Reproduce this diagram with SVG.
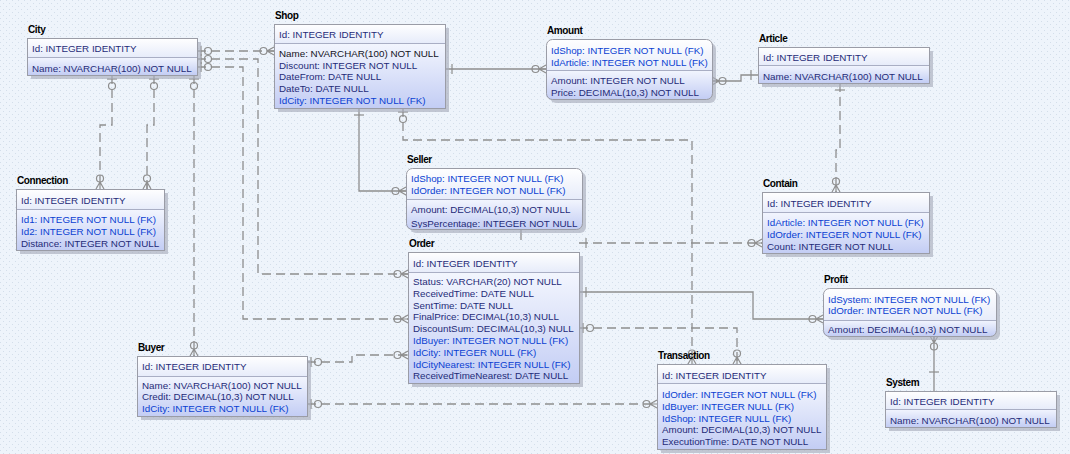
<svg xmlns="http://www.w3.org/2000/svg" xmlns:xlink="http://www.w3.org/1999/xlink" width="1070" height="454" viewBox="0 0 1070 454">
<style>
text{font-family:"Liberation Sans",Arial,sans-serif;font-size:9.8px}
.t{font-weight:bold;fill:#000;font-size:10px;letter-spacing:-0.4px}
.a{fill:#1f2b78}
.k{fill:#0a3fd2}
.n{fill:#14141c}
.sh{fill:#a9aebb;opacity:0.65}
.hd{fill:url(#gh)}
.bd{fill:url(#gb)}
.bx{fill:none;stroke:#9a9ca6;stroke-width:1}
.sp{stroke:#a9aec4;stroke-width:1}
.c{fill:none;stroke:#8e8e8e;stroke-width:1.3}
.d{stroke-dasharray:9,5}
.m{fill:none;stroke:#8e8e8e;stroke-width:1.2}
</style>
<defs>
<pattern id="bg" width="6" height="6" patternUnits="userSpaceOnUse">
<rect x="0" y="0" width="1" height="1" fill="#d3deea"/>
<rect x="3" y="3" width="1" height="1" fill="#d3deea"/>
</pattern>
<linearGradient id="gh" x1="0" y1="0" x2="0" y2="1"><stop offset="0" stop-color="#ffffff"/><stop offset="1" stop-color="#e7ecfa"/></linearGradient>
<linearGradient id="gb" x1="0" y1="0" x2="0" y2="1"><stop offset="0" stop-color="#f3f6fe"/><stop offset="1" stop-color="#c3cdf4"/></linearGradient>
<g id="crow" class="m"><path d="M-7,0 L0,-4 M-7,0 L0,0 M-7,0 L0,4"/><circle cx="-10.5" cy="0" r="3.5"/></g>
<g id="opt" class="m"><path d="M4,-5 V5"/><circle cx="11" cy="0" r="3.5"/></g>
<g id="one" class="m"><path d="M7,-5 V5"/></g>
<clipPath id="clSeller"><rect x="406" y="168" width="176" height="60"/></clipPath>
</defs>
<rect width="1070" height="454" fill="#eef4fb"/>
<rect width="1070" height="454" fill="url(#bg)"/>

<g id="connectors">
<path class="c d" d="M197,51 H274"/>
<path class="c d" d="M197,59 H258 V274 H408"/>
<path class="c d" d="M197,67 H243 V319 H408"/>
<path class="c d" d="M112,75 V125 H100 V189"/>
<path class="c d" d="M154,75 V125 H147 V189"/>
<path class="c d" d="M194,75 V356"/>
<path class="c" d="M445,69 H546"/>
<path class="c" d="M712,81 H741 V75 H758"/>
<path class="c" d="M359,108 V191 H406"/>
<path class="c d" d="M403,108 V140 H692 V364"/>
<path class="c d" d="M840,83 V150 H836 V192"/>
<path class="c d" d="M579,243 H762"/>
<path class="c" d="M579,292 H753 V319 H823"/>
<path class="c d" d="M579,328 H737 V364"/>
<path class="c d" d="M307,362 H352 V355 H408"/>
<path class="c d" d="M307,404 H657"/>
<path class="c" d="M934,336 V391"/>
<path class="c" d="M521,229 V240"/>
<use xlink:href="#opt" transform="translate(197,51)"/>
<use xlink:href="#crow" transform="translate(274,51)"/>
<use xlink:href="#opt" transform="translate(197,59)"/>
<use xlink:href="#crow" transform="translate(408,274)"/>
<use xlink:href="#opt" transform="translate(197,67)"/>
<use xlink:href="#crow" transform="translate(408,319)"/>
<use xlink:href="#opt" transform="translate(112,75) rotate(90)"/>
<use xlink:href="#crow" transform="translate(100,189) rotate(90)"/>
<use xlink:href="#opt" transform="translate(154,75) rotate(90)"/>
<use xlink:href="#crow" transform="translate(147,189) rotate(90)"/>
<use xlink:href="#opt" transform="translate(194,75) rotate(90)"/>
<use xlink:href="#crow" transform="translate(194,356) rotate(90)"/>
<use xlink:href="#one" transform="translate(445,69)"/>
<use xlink:href="#crow" transform="translate(546,69)"/>
<use xlink:href="#crow" transform="translate(712,81) rotate(180)"/>
<use xlink:href="#one" transform="translate(758,75) rotate(180)"/>
<use xlink:href="#one" transform="translate(359,108) rotate(90)"/>
<use xlink:href="#crow" transform="translate(406,191)"/>
<use xlink:href="#opt" transform="translate(403,108) rotate(90)"/>
<use xlink:href="#crow" transform="translate(692,364) rotate(90)"/>
<use xlink:href="#one" transform="translate(840,83) rotate(90)"/>
<use xlink:href="#crow" transform="translate(836,192) rotate(90)"/>
<use xlink:href="#one" transform="translate(579,243)"/>
<use xlink:href="#crow" transform="translate(762,243)"/>
<use xlink:href="#one" transform="translate(579,292)"/>
<use xlink:href="#crow" transform="translate(823,319)"/>
<use xlink:href="#opt" transform="translate(579,328)"/>
<use xlink:href="#crow" transform="translate(737,364) rotate(90)"/>
<use xlink:href="#opt" transform="translate(307,362)"/>
<use xlink:href="#crow" transform="translate(408,355)"/>
<use xlink:href="#opt" transform="translate(307,404)"/>
<use xlink:href="#crow" transform="translate(657,404)"/>
<use xlink:href="#crow" transform="translate(934,336) rotate(-90)"/>
<path class="m" d="M929,372 H939"/>
</g>

<g id="city">
<rect class="sh" x="31" y="42" width="170" height="37"/>
<rect class="hd" x="27" y="38" width="170" height="19"/>
<rect class="bd" x="27" y="57" width="170" height="18"/>
<rect class="bx" x="27.5" y="38.5" width="170" height="37"/>
<line class="sp" x1="28" y1="57.5" x2="197" y2="57.5"/>
<text class="t" x="28" y="33">City</text>
<text class="a" x="32" y="52">Id: INTEGER IDENTITY</text>
<text class="a" x="32" y="71.5">Name: NVARCHAR(100) NOT NULL</text>
</g>

<g id="shop">
<rect class="sh" x="278" y="28" width="171" height="84"/>
<rect class="hd" x="274" y="24" width="171" height="19"/>
<rect class="bd" x="274" y="43" width="171" height="65"/>
<rect class="bx" x="274.5" y="24.5" width="171" height="84"/>
<line class="sp" x1="275" y1="43.5" x2="445" y2="43.5"/>
<text class="t" x="275" y="19">Shop</text>
<text class="a" x="279" y="37.5">Id: INTEGER IDENTITY</text>
<text class="n" x="279" y="57">Name: NVARCHAR(100) NOT NULL</text>
<text class="a" x="279" y="68.7">Discount: INTEGER NOT NULL</text>
<text class="a" x="279" y="80.4">DateFrom: DATE NULL</text>
<text class="a" x="279" y="92.1">DateTo: DATE NULL</text>
<text class="k" x="279" y="103.8">IdCity: INTEGER NOT NULL (FK)</text>
</g>

<g id="amount">
<rect class="sh" x="550" y="43" width="166" height="60" rx="6"/>
<path class="hd" d="M546,70 V45 Q546,39 552,39 H706 Q712,39 712,45 V70 Z"/>
<path class="bd" d="M546,70 H712 V93 Q712,99 706,99 H552 Q546,99 546,93 Z"/>
<rect class="bx" x="546.5" y="39.5" width="166" height="60" rx="6"/>
<line class="sp" x1="547" y1="70.5" x2="712" y2="70.5"/>
<text class="t" x="547" y="34">Amount</text>
<text class="k" x="551" y="54">IdShop: INTEGER NOT NULL (FK)</text>
<text class="k" x="551" y="65.7">IdArticle: INTEGER NOT NULL (FK)</text>
<text class="a" x="551" y="84">Amount: INTEGER NOT NULL</text>
<text class="a" x="551" y="95.7">Price: DECIMAL(10,3) NOT NULL</text>
</g>

<g id="article">
<rect class="sh" x="762" y="51" width="171" height="36"/>
<rect class="hd" x="758" y="47" width="171" height="18"/>
<rect class="bd" x="758" y="65" width="171" height="18"/>
<rect class="bx" x="758.5" y="47.5" width="171" height="36"/>
<line class="sp" x1="759" y1="65.5" x2="929" y2="65.5"/>
<text class="t" x="759" y="42">Article</text>
<text class="a" x="763" y="61">Id: INTEGER IDENTITY</text>
<text class="a" x="763" y="79.5">Name: NVARCHAR(100) NOT NULL</text>
</g>

<g id="connection">
<rect class="sh" x="20" y="193" width="148" height="61"/>
<rect class="hd" x="16" y="189" width="148" height="20"/>
<rect class="bd" x="16" y="209" width="148" height="41"/>
<rect class="bx" x="16.5" y="189.5" width="148" height="61"/>
<line class="sp" x1="17" y1="209.5" x2="164" y2="209.5"/>
<text class="t" x="17" y="184">Connection</text>
<text class="a" x="21" y="204">Id: INTEGER IDENTITY</text>
<text class="k" x="21" y="223">Id1: INTEGER NOT NULL (FK)</text>
<text class="k" x="21" y="234.8">Id2: INTEGER NOT NULL (FK)</text>
<text class="a" x="21" y="246.6">Distance: INTEGER NOT NULL</text>
</g>

<g id="seller">
<rect class="sh" x="410" y="172" width="176" height="61" rx="6"/>
<path class="hd" d="M406,199 V174 Q406,168 412,168 H576 Q582,168 582,174 V199 Z"/>
<path class="bd" d="M406,199 H582 V223 Q582,229 576,229 H412 Q406,229 406,223 Z"/>
<text class="t" x="407" y="163">Seller</text>
<text class="k" x="411" y="182">IdShop: INTEGER NOT NULL (FK)</text>
<text class="k" x="411" y="193.8">IdOrder: INTEGER NOT NULL (FK)</text>
<text class="a" x="411" y="213">Amount: DECIMAL(10,3) NOT NULL</text>
<text class="a" x="411" y="226.5" clip-path="url(#clSeller)">SysPercentage: INTEGER NOT NULL</text>
<rect class="bx" x="406.5" y="168.5" width="176" height="61" rx="6"/>
<line class="sp" x1="407" y1="199.5" x2="582" y2="199.5"/>
</g>

<g id="contain">
<rect class="sh" x="766" y="196" width="167" height="61"/>
<rect class="hd" x="762" y="192" width="167" height="20"/>
<rect class="bd" x="762" y="212" width="167" height="41"/>
<rect class="bx" x="762.5" y="192.5" width="167" height="61"/>
<line class="sp" x1="763" y1="212.5" x2="929" y2="212.5"/>
<text class="t" x="763" y="187">Contain</text>
<text class="a" x="767" y="206.5">Id: INTEGER IDENTITY</text>
<text class="k" x="767" y="226">IdArticle: INTEGER NOT NULL (FK)</text>
<text class="k" x="767" y="237.8">IdOrder: INTEGER NOT NULL (FK)</text>
<text class="a" x="767" y="249.6">Count: INTEGER NOT NULL</text>
</g>

<g id="order">
<rect class="sh" x="412" y="256" width="171" height="131"/>
<rect class="hd" x="408" y="252" width="171" height="20"/>
<rect class="bd" x="408" y="272" width="171" height="111"/>
<rect class="bx" x="408.5" y="252.5" width="171" height="131"/>
<line class="sp" x1="409" y1="272.5" x2="579" y2="272.5"/>
<text class="t" x="409" y="247">Order</text>
<text class="a" x="413" y="266.5">Id: INTEGER IDENTITY</text>
<text class="a" x="413" y="285">Status: VARCHAR(20) NOT NULL</text>
<text class="a" x="413" y="296.8">ReceivedTime: DATE NULL</text>
<text class="a" x="413" y="308.6">SentTime: DATE NULL</text>
<text class="a" x="413" y="320.4">FinalPrice: DECIMAL(10,3) NULL</text>
<text class="a" x="413" y="332.2">DiscountSum: DECIMAL(10,3) NULL</text>
<text class="k" x="413" y="344">IdBuyer: INTEGER NOT NULL (FK)</text>
<text class="k" x="413" y="355.8">IdCity: INTEGER NULL (FK)</text>
<text class="k" x="413" y="367.6">IdCityNearest: INTEGER NULL (FK)</text>
<text class="a" x="413" y="379.4">ReceivedTimeNearest: DATE NULL</text>
</g>

<g id="profit">
<rect class="sh" x="827" y="292" width="173" height="48" rx="6"/>
<path class="hd" d="M823,320 V294 Q823,288 829,288 H990 Q996,288 996,294 V320 Z"/>
<path class="bd" d="M823,320 H996 V330 Q996,336 990,336 H829 Q823,336 823,330 Z"/>
<rect class="bx" x="823.5" y="288.5" width="173" height="48" rx="6"/>
<line class="sp" x1="824" y1="320.5" x2="996" y2="320.5"/>
<text class="t" x="824" y="283">Profit</text>
<text class="k" x="828" y="302.5">IdSystem: INTEGER NOT NULL (FK)</text>
<text class="k" x="828" y="314.3">IdOrder: INTEGER NOT NULL (FK)</text>
<text class="a" x="828" y="332.5">Amount: DECIMAL(10,3) NOT NULL</text>
</g>

<g id="buyer">
<rect class="sh" x="141" y="360" width="170" height="60"/>
<rect class="hd" x="137" y="356" width="170" height="20"/>
<rect class="bd" x="137" y="376" width="170" height="40"/>
<rect class="bx" x="137.5" y="356.5" width="170" height="60"/>
<line class="sp" x1="138" y1="376.5" x2="307" y2="376.5"/>
<text class="t" x="138" y="351">Buyer</text>
<text class="a" x="142" y="370">Id: INTEGER IDENTITY</text>
<text class="a" x="142" y="388.5">Name: NVARCHAR(100) NOT NULL</text>
<text class="a" x="142" y="400.3">Credit: DECIMAL(10,3) NOT NULL</text>
<text class="k" x="142" y="412.1">IdCity: INTEGER NOT NULL (FK)</text>
</g>

<g id="transaction">
<rect class="sh" x="661" y="368" width="169" height="85"/>
<rect class="hd" x="657" y="364" width="169" height="19"/>
<rect class="bd" x="657" y="383" width="169" height="66"/>
<rect class="bx" x="657.5" y="364.5" width="169" height="85"/>
<line class="sp" x1="658" y1="383.5" x2="826" y2="383.5"/>
<text class="t" x="658" y="359">Transaction</text>
<text class="a" x="662" y="378.5">Id: INTEGER IDENTITY</text>
<text class="k" x="662" y="398">IdOrder: INTEGER NOT NULL (FK)</text>
<text class="k" x="662" y="409.8">IdBuyer: INTEGER NULL (FK)</text>
<text class="k" x="662" y="421.6">IdShop: INTEGER NULL (FK)</text>
<text class="a" x="662" y="433.4">Amount: DECIMAL(10,3) NOT NULL</text>
<text class="a" x="662" y="445.2">ExecutionTime: DATE NOT NULL</text>
</g>

<g id="system">
<rect class="sh" x="889" y="395" width="171" height="36"/>
<rect class="hd" x="885" y="391" width="171" height="18"/>
<rect class="bd" x="885" y="409" width="171" height="18"/>
<rect class="bx" x="885.5" y="391.5" width="171" height="36"/>
<line class="sp" x1="886" y1="409.5" x2="1056" y2="409.5"/>
<text class="t" x="886" y="386">System</text>
<text class="a" x="890" y="405">Id: INTEGER IDENTITY</text>
<text class="a" x="890" y="423.5">Name: NVARCHAR(100) NOT NULL</text>
</g>
</svg>
